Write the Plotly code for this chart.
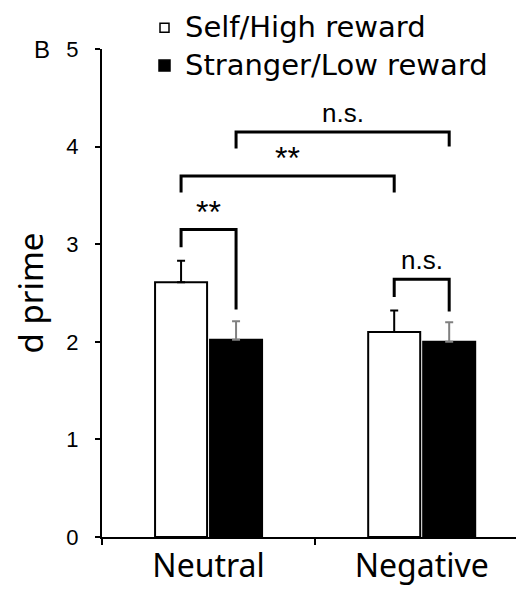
import plotly.graph_objects as go

# ---- data ----
categories = ["Neutral", "Negative"]
series_names = ["Self/High reward", "Stranger/Low reward"]
self_vals = [2.61, 2.10]
self_err = [0.22, 0.22]
stranger_vals = [2.02, 2.00]
stranger_err = [0.19, 0.20]
y_ticks = [0, 1, 2, 3, 4, 5]

# significance brackets: (x_start, x_end, y_top, y_leg_left, y_leg_right, label)
# x given as category index + side (-1 = self bar, +1 = stranger bar)
brackets = [
    ((0, -1), (0, 1), 3.15, 2.97, 2.33, "**"),
    ((1, -1), (1, 1), 2.64, 2.46, 2.31, "n.s."),
    ((0, -1), (1, -1), 3.70, 3.53, 3.53, "**"),
    ((0, 1), (1, 1), 4.15, 3.98, 4.00, "n.s."),
]

BARGAP = 0.484
GROUPGAP = 0.054
slot = (1 - BARGAP) / 2  # width of one bar slot in category units
half = slot / 2

# layout geometry (figure pixels)
W, H = 516, 587
ML, MR, MT, MB = 94, 0, 41, 58
PW, PH = W - ML - MR, H - MT - MB


def px_x(px):
    """figure pixel x -> paper x"""
    return (px - ML) / PW


def px_y(py):
    """figure pixel y -> paper y"""
    return (H - MB - py) / PH


fig = go.Figure()
fig.add_trace(go.Bar(
    x=categories, y=self_vals, name=series_names[0],
    marker=dict(color="white", line=dict(color="black", width=2)),
    error_y=dict(type="data", array=self_err, arrayminus=[0] * len(self_err),
                 symmetric=False, color="black", thickness=2, width=4),
))
fig.add_trace(go.Bar(
    x=categories, y=stranger_vals, name=series_names[1],
    marker=dict(color="black", line=dict(color="black", width=2)),
    error_y=dict(type="data", array=stranger_err, arrayminus=[0] * len(stranger_err),
                 symmetric=False, color="#808080", thickness=2, width=4),
))

for (c1, s1), (c2, s2), ytop, yl, yr, label in brackets:
    x1 = c1 + s1 * half
    x2 = c2 + s2 * half
    fig.add_shape(type="path", xref="x", yref="y",
                  path=f"M {x1},{yl} L {x1},{ytop} L {x2},{ytop} L {x2},{yr}",
                  line=dict(color="black", width=3))
    is_star = label == "**"
    fig.add_annotation(x=(x1 + x2) / 2, y=ytop, xref="x", yref="y",
                       text=label, showarrow=False, yanchor="bottom",
                       yshift=-2 if is_star else 2,
                       font=dict(family="Liberation Sans", size=32 if is_star else 26,
                                 color="black"))

# panel letter
fig.add_annotation(x=-0.143, y=1.0, xref="paper", yref="paper", text="B",
                   showarrow=False, xanchor="center", yanchor="middle",
                   font=dict(family="Liberation Sans", size=24, color="black"))

# legend (drawn manually to match the compact layout of the original)
LEG_SIZE = 29
line_h = 1.3 * LEG_SIZE
top = 0
fig.add_annotation(x=px_x(175), y=px_y(top), xref="paper", yref="paper",
                   text="<br>".join(series_names), align="left",
                   showarrow=False, xanchor="left", yanchor="top",
                   font=dict(family="DejaVu Sans", size=LEG_SIZE, color="black"))
legend_fills = ["white", "black"]
legend_box = [4.5, 5.5]
for i, fill in enumerate(legend_fills):
    row_y = top + 1 + line_h * (i + 0.5)
    s = legend_box[i]
    fig.add_shape(type="rect", xref="paper", yref="paper",
                  x0=px_x(156.5 - s), x1=px_x(156.5 + s),
                  y0=px_y(row_y + s), y1=px_y(row_y - s),
                  fillcolor=fill, line=dict(color="black", width=1.5))

fig.update_layout(
    width=W, height=H,
    margin=dict(l=ML, r=MR, t=MT, b=MB, autoexpand=False),
    paper_bgcolor="white", plot_bgcolor="white",
    barmode="group", bargap=BARGAP, bargroupgap=GROUPGAP,
    showlegend=False,
    xaxis=dict(type="category", range=[-0.5, 1.48], tickson="boundaries",
               ticks="outside", ticklen=6, tickwidth=2, tickcolor="black",
               showline=True, linecolor="black", linewidth=2,
               showgrid=False, zeroline=False,
               tickfont=dict(family="Noto Sans", size=32, color="black")),
    yaxis=dict(range=[0, 5], tickvals=y_ticks, ticks="outside", ticklen=5,
               tickwidth=2, tickcolor="black", showline=True, linecolor="black",
               linewidth=2, showgrid=False, zeroline=False, ticklabelstandoff=12,
               tickfont=dict(family="Liberation Sans", size=22, color="black"),
               title=dict(text="d prime", standoff=29,
                          font=dict(family="Noto Sans", size=33, color="black"))),
)

fig.write_html("out.html")
